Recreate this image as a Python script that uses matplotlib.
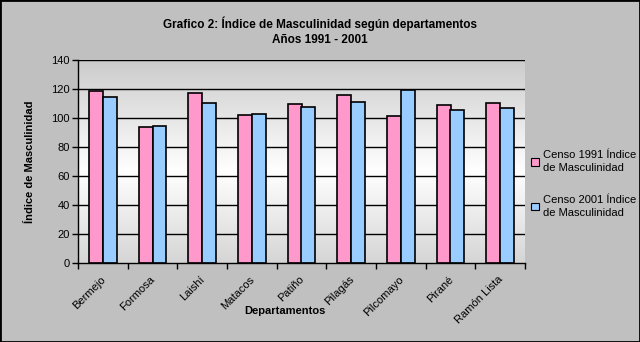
import numpy as np
import matplotlib
matplotlib.use("Agg")
import matplotlib.pyplot as plt
from matplotlib.patches import Rectangle

plt.rcParams['font.family'] = ['Liberation Sans', 'DejaVu Sans']

departamentos = ["Bermejo", "Formosa", "Laishí", "Matacos", "Patiño",
                 "Pilagás", "Pilcomayo", "Pirané", "Ramón Lista"]
censo_1991 = [118.6, 93.7, 117.2, 102.0, 109.6, 115.8, 101.1, 108.9, 110.3]
censo_2001 = [114.4, 94.4, 110.3, 102.7, 107.5, 111.0, 119.2, 105.5, 106.8]
serie_labels = ["Censo 1991 Índice\nde Masculinidad", "Censo 2001 Índice\nde Masculinidad"]
y_ticks = [0, 20, 40, 60, 80, 100, 120, 140]

fig = plt.figure(figsize=(6.4, 3.42), dpi=100, facecolor="#c0c0c0")
fig.patches.append(Rectangle((0, 0), 1, 1, transform=fig.transFigure,
                             fill=False, edgecolor="black", linewidth=2))

ax = fig.add_axes([78/640, 1 - 263/342, (525-78)/640, (263-60)/342])
ax.set_facecolor("white")

# vertical grey-white-grey gradient behind the plot area
t = np.linspace(0, 1, 256)
shade = 1 - 0.2 * np.abs(t - 0.45) / 0.55
grad = np.dstack([shade, shade, shade])[0][:, None, :]
ax.imshow(grad, extent=[0, 1, 0, 1], transform=ax.transAxes,
          aspect="auto", origin="lower", zorder=0)

n = len(departamentos)
x = np.arange(n)
w = 0.28
ax.bar(x - w/2, censo_1991, width=w, color="#ff99cc", edgecolor="black",
       linewidth=1.2, zorder=3, label=serie_labels[0])
ax.bar(x + w/2, censo_2001, width=w, color="#99ccff", edgecolor="black",
       linewidth=1.2, zorder=3, label=serie_labels[1])

ax.set_xlim(-0.5, n - 0.5)
ax.set_ylim(0, 140)
ax.set_yticks(y_ticks)
ax.set_yticklabels([str(v) for v in y_ticks], fontsize=8)
for v in y_ticks[1:]:
    ax.axhline(v, color="black", linewidth=1, zorder=2)

ax.set_xticks(np.arange(n + 1) - 0.5, minor=False)
ax.set_xticklabels([])
ax.set_xticks(x - 0.05, minor=True)
ax.set_xticklabels(departamentos, minor=True, rotation=45, ha="right",
                   rotation_mode="anchor", fontsize=8)
ax.tick_params(axis="x", which="minor", length=0, pad=8)
ax.tick_params(axis="x", which="major", length=4, direction="out", width=1)
ax.tick_params(axis="y", length=4, direction="out", width=1, pad=2)

for s in ["top", "right"]:
    ax.spines[s].set_visible(False)
for s in ["left", "bottom"]:
    ax.spines[s].set_linewidth(1)
    ax.spines[s].set_zorder(4)

fig.text(0.5, 1 - 24/342, "Grafico 2: Índice de Masculinidad según departamentos",
         ha="center", va="center", fontsize=8.5, fontweight="bold")
fig.text(0.5, 1 - 40/342, "Años 1991 - 2001",
         ha="center", va="center", fontsize=8.5, fontweight="bold")
fig.text(285/640, 1 - 311/342, "Departamentos", ha="center", va="center",
         fontsize=8, fontweight="bold")
fig.text(30/640, 1 - 162/342, "Índice de Masculinidad", ha="center", va="center",
         rotation=90, fontsize=8, fontweight="bold")

leg = fig.legend(loc="center left", bbox_to_anchor=(531/640, 1 - 184/342),
                 frameon=False, fontsize=8, handlelength=0.7, handleheight=0.7,
                 handletextpad=0.35, labelspacing=1.9, borderpad=0,
                 borderaxespad=0)
for txt in leg.get_texts():
    txt.set_linespacing(1.45)
for h in leg.legend_handles:
    h.set_linewidth(0.8)

fig.savefig("out.png", dpi=100, facecolor=fig.get_facecolor())
